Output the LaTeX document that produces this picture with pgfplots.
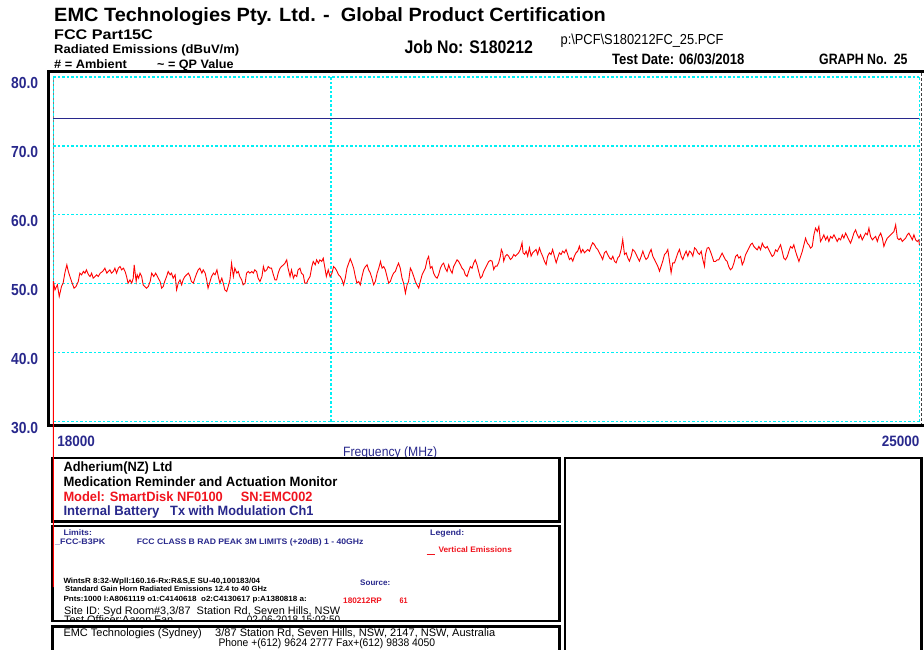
\documentclass[border=0pt]{standalone}
\usepackage{fontspec}
\setmainfont{Liberation Sans}
\usepackage{pgfplots}
\pgfplotsset{compat=1.18}
\usepackage{graphicx}
\definecolor{navy}{RGB}{40,40,140}
\definecolor{gridc}{RGB}{0,240,245}
\definecolor{tr}{RGB}{255,0,0}
\definecolor{rtx}{RGB}{240,20,30}
% x, baseline y (pixels from top), width, font size, colour, text
\newcommand{\TX}[6]{\node[anchor=base west,inner sep=0pt,text=#5] at (#1,#2) {\resizebox{#3pt}{\height}{\fontsize{#4}{#4}\selectfont #6}};}
\newcommand{\yl}[1]{\resizebox{27pt}{\height}{\fontsize{16}{16}\selectfont\bfseries #1}}
\newcommand{\xl}[1]{\resizebox{37.5pt}{\height}{\fontsize{15}{15}\selectfont\bfseries #1}}
% frequency in GHz (axis labelled in MHz), level in dBuV/m
\pgfplotstableread{
f v
18.000 6
18.000 50.4
18.012 49.13
18.027 49.85
18.041 48.16
18.057 49.61
18.068 50.10
18.080 51.55
18.092 52.76
18.103 51.79
18.114 51.06
18.126 50.34
18.142 49.37
18.156 49.61
18.172 50.34
18.183 51.55
18.195 51.31
18.206 51.79
18.218 51.55
18.229 52.03
18.241 51.31
18.252 51.06
18.264 51.55
18.275 50.82
18.287 51.06
18.299 51.31
18.310 51.06
18.322 51.55
18.341 51.79
18.357 52.27
18.368 51.55
18.379 51.79
18.391 52.03
18.403 51.55
18.415 51.79
18.426 52.27
18.438 51.55
18.450 52.27
18.461 52.51
18.473 52.03
18.485 52.27
18.497 51.79
18.508 51.06
18.520 50.10
18.532 50.58
18.544 50.10
18.555 50.82
18.562 52.76
18.574 50.34
18.583 51.31
18.593 50.82
18.602 51.55
18.614 51.06
18.625 49.85
18.637 49.61
18.649 49.37
18.661 49.61
18.673 50.34
18.685 51.55
18.701 51.06
18.715 51.55
18.732 50.82
18.744 50.34
18.756 49.37
18.767 49.61
18.779 50.34
18.791 51.06
18.803 51.79
18.815 51.31
18.827 51.55
18.839 50.82
18.851 51.31
18.863 49.13
18.875 50.10
18.887 50.58
18.899 49.85
18.910 50.58
18.922 51.06
18.935 51.31
18.946 51.55
18.958 51.06
18.970 50.34
18.982 50.10
18.995 50.82
19.007 51.55
19.018 52.03
19.031 52.27
19.043 51.55
19.054 52.03
19.067 51.55
19.079 50.58
19.091 49.37
19.103 50.34
19.115 51.06
19.127 51.55
19.139 51.31
19.152 52.03
19.163 51.06
19.176 50.10
19.188 50.82
19.200 50.10
19.212 49.13
19.225 48.89
19.236 49.61
19.249 50.58
19.261 53.00
19.273 51.06
19.285 52.27
19.298 51.55
19.310 51.79
19.322 51.06
19.335 50.58
19.346 49.85
19.358 50.10
19.371 51.55
19.383 51.79
19.395 51.55
19.408 51.79
19.420 51.55
19.432 52.03
19.445 51.79
19.457 50.82
19.469 50.34
19.482 51.06
19.493 52.51
19.506 51.79
19.518 52.03
19.530 52.51
19.543 52.27
19.556 52.27
19.568 51.31
19.580 50.58
19.593 50.58
19.605 51.55
19.617 52.27
19.630 52.51
19.642 52.76
19.655 53.00
19.667 53.48
19.679 52.27
19.692 51.06
19.705 52.03
19.717 50.82
19.729 51.31
19.742 51.06
19.754 52.03
19.767 52.27
19.780 51.55
19.792 51.31
19.804 50.10
19.817 50.10
19.829 50.58
19.842 51.06
19.855 52.51
19.867 53.24
19.880 52.76
19.893 53.48
19.905 53.00
19.917 53.48
19.930 53.24
19.942 53.72
19.955 52.27
19.968 51.06
19.980 52.03
19.993 51.06
20.006 51.55
20.018 52.51
20.031 52.27
20.044 51.79
20.056 51.31
20.069 51.06
20.082 50.58
20.094 49.85
20.107 50.82
20.120 52.27
20.133 53.00
20.145 53.63
20.158 53.00
20.171 52.27
20.184 51.06
20.196 50.10
20.209 50.34
20.222 49.85
20.235 51.06
20.248 52.03
20.261 52.51
20.274 52.76
20.286 52.03
20.299 51.55
20.312 50.82
20.325 49.85
20.338 50.34
20.351 51.55
20.364 52.27
20.377 53.24
20.390 52.27
20.402 52.51
20.415 52.03
20.428 51.06
20.441 50.10
20.454 50.34
20.467 51.06
20.479 51.55
20.493 51.79
20.506 52.51
20.518 53.00
20.531 52.27
20.545 50.82
20.557 50.10
20.571 48.65
20.584 49.85
20.596 50.34
20.610 52.27
20.623 51.79
20.636 51.06
20.649 50.34
20.662 49.85
20.675 49.37
20.688 50.34
20.702 51.31
20.714 51.79
20.727 52.27
20.741 53.48
20.753 53.97
20.767 52.27
20.780 52.51
20.793 51.55
20.806 51.06
20.820 50.82
20.832 51.31
20.846 52.27
20.859 52.76
20.872 53.00
20.885 52.27
20.899 51.79
20.912 52.76
20.925 52.03
20.939 51.55
20.951 52.51
20.965 53.00
20.978 53.48
20.991 53.24
21.005 52.76
21.018 52.27
21.031 52.03
21.044 51.31
21.058 51.06
21.071 51.79
21.084 52.51
21.098 52.27
21.111 53.00
21.124 53.48
21.138 52.76
21.151 51.79
21.165 50.82
21.178 51.06
21.191 51.79
21.205 52.27
21.218 52.76
21.232 53.24
21.245 53.40
21.259 53.29
21.272 52.08
21.285 52.56
21.299 52.56
21.312 53.05
21.326 54.01
21.334 54.98
21.345 54.50
21.353 53.29
21.366 54.01
21.380 54.26
21.393 54.01
21.407 53.53
21.421 53.77
21.434 54.26
21.448 54.01
21.461 54.26
21.474 54.50
21.488 54.98
21.502 55.95
21.510 54.50
21.523 54.26
21.535 54.74
21.548 54.01
21.562 55.22
21.576 54.01
21.589 54.50
21.603 54.74
21.617 54.98
21.630 54.26
21.644 55.22
21.658 54.50
21.671 54.01
21.685 53.29
21.699 52.80
21.712 54.01
21.726 54.50
21.740 54.26
21.753 54.98
21.767 54.01
21.782 53.05
21.795 53.77
21.809 54.50
21.823 54.26
21.836 54.74
21.850 54.50
21.864 54.98
21.878 54.26
21.892 53.53
21.906 53.77
21.919 53.29
21.933 54.01
21.947 54.50
21.961 54.74
21.975 55.46
21.989 54.50
22.003 54.98
22.017 54.50
22.031 54.74
22.044 54.98
22.059 54.74
22.073 55.46
22.086 55.95
22.100 55.71
22.115 55.22
22.128 54.98
22.142 54.50
22.157 54.01
22.170 53.53
22.185 54.50
22.199 54.74
22.212 54.26
22.227 53.77
22.241 53.53
22.255 54.01
22.269 53.29
22.283 53.05
22.297 53.77
22.311 54.01
22.326 54.98
22.339 56.43
22.354 54.26
22.368 54.50
22.382 53.77
22.396 53.29
22.411 54.01
22.424 54.98
22.439 54.74
22.453 54.26
22.467 53.77
22.481 53.29
22.496 54.01
22.510 54.74
22.524 54.01
22.538 53.53
22.552 53.77
22.567 54.50
22.581 54.98
22.595 54.01
22.610 53.53
22.624 53.05
22.638 52.56
22.653 51.84
22.667 52.56
22.681 53.29
22.696 54.26
22.710 54.50
22.724 54.98
22.739 53.29
22.753 51.60
22.767 53.05
22.782 53.05
22.797 53.77
22.811 54.50
22.825 54.98
22.840 54.01
22.854 53.53
22.869 54.26
22.883 54.74
22.897 54.01
22.912 54.74
22.927 54.50
22.941 54.01
22.956 55.22
22.970 54.98
22.985 54.50
22.999 54.26
23.014 54.74
23.028 53.53
23.043 52.56
23.051 54.21
23.066 55.17
23.080 55.27
23.095 54.69
23.110 53.97
23.124 53.24
23.139 53.24
23.154 53.48
23.168 53.48
23.183 53.97
23.198 54.45
23.212 53.97
23.227 53.48
23.242 53.24
23.256 52.51
23.271 52.03
23.286 52.27
23.301 53.00
23.316 53.97
23.331 54.21
23.345 53.72
23.360 53.97
23.375 52.76
23.389 53.24
23.404 54.21
23.420 54.69
23.434 55.17
23.449 55.66
23.464 55.90
23.478 55.42
23.493 55.17
23.508 54.93
23.523 55.42
23.538 54.93
23.553 55.90
23.567 55.42
23.583 55.17
23.598 55.42
23.612 54.93
23.627 54.45
23.643 53.97
23.657 54.21
23.672 54.93
23.688 54.69
23.702 55.17
23.717 55.66
23.733 54.69
23.747 53.72
23.762 53.48
23.778 53.97
23.792 54.69
23.807 55.42
23.823 55.17
23.837 55.66
23.853 54.69
23.868 53.97
23.883 53.24
23.898 53.97
23.913 54.69
23.928 55.66
23.943 56.62
23.959 55.90
23.973 55.66
23.989 55.17
24.004 55.42
24.019 57.11
24.034 58.08
24.050 57.59
24.065 58.32
24.080 56.14
24.096 56.62
24.110 57.11
24.126 56.38
24.142 56.87
24.156 56.14
24.172 56.87
24.187 56.62
24.202 57.11
24.218 56.62
24.233 56.14
24.248 56.62
24.264 56.38
24.279 57.11
24.294 56.62
24.310 57.35
24.325 56.87
24.340 56.38
24.356 55.90
24.372 56.62
24.386 57.35
24.402 57.83
24.418 57.11
24.433 56.62
24.448 57.11
24.464 56.38
24.479 56.87
24.495 57.35
24.511 57.11
24.526 58.08
24.541 56.87
24.557 56.38
24.572 56.62
24.588 56.87
24.604 56.14
24.619 56.87
24.635 57.35
24.651 56.62
24.666 55.42
24.682 56.14
24.698 56.62
24.713 56.87
24.729 57.11
24.744 57.35
24.760 57.59
24.776 58.56
24.792 56.62
24.807 56.38
24.823 56.62
24.838 56.14
24.854 56.38
24.870 56.62
24.886 57.11
24.901 57.35
24.917 56.87
24.933 56.38
24.948 57.11
24.964 56.38
24.980 56.14
24.995 56.38
25.000 55.66
}\trace
\begin{document}
\begin{tikzpicture}
\begin{scope}[x=1pt,y=-1pt]
\path[use as bounding box] (0,0) rectangle (924,649);
% header
\TX{54}{21.7}{551.6}{19.2}{black}{\bfseries EMC Technologies Pty. Ltd. -\ \ Global Product Certification}
\TX{54}{39.3}{98.7}{14}{black}{\bfseries FCC Part15C}
\TX{54}{53.3}{185}{12.2}{black}{\bfseries Radiated Emissions (dBuV/m)}
\TX{54}{68.3}{72.7}{12.2}{black}{\bfseries \# = Ambient}
\TX{157}{68.3}{76.3}{12.2}{black}{\bfseries \textasciitilde\ = QP Value}
\TX{404.3}{53}{128.4}{18.2}{black}{\bfseries Job No: S180212}
\TX{560.4}{44.3}{163}{14.5}{black}{p:\textbackslash PCF\textbackslash S180212FC\_25.PCF}
\TX{611.8}{64}{132.5}{15}{black}{\bfseries Test Date: 06/03/2018}
\TX{819}{64}{88.4}{15}{black}{\bfseries GRAPH No.\ \ 25}
% frame
\draw[line width=2.8pt] (48.3,71.3) rectangle (927,425.5);
\draw[gray, line width=0.8pt] (53.3,77) -- (53.3,421.7);
\draw[black!75, line width=1pt, dash pattern=on 3pt off 2pt] (921.8,73) -- (921.8,424);
% x label (partly hidden by box)
\TX{343}{456.7}{94}{13.5}{navy}{Frequency (MHz)}
% box 1
\draw[line width=2.2pt,fill=white] (52.5,458) rectangle (559.5,521.5);
\TX{63.3}{471}{109}{13.5}{black}{\bfseries Adherium(NZ) Ltd}
\TX{63.3}{486}{274}{13.5}{black}{\bfseries Medication Reminder and Actuation Monitor}
\TX{63.3}{501}{159.4}{13.5}{rtx}{\bfseries Model: SmartDisk NF0100}
\TX{240.7}{501}{71.6}{13.5}{rtx}{\bfseries SN:EMC002}
\TX{63.3}{515}{96}{13.5}{navy}{\bfseries Internal Battery}
\TX{170}{515}{143.3}{13.5}{navy}{\bfseries Tx with Modulation Ch1}
% box 2
\draw[line width=2.2pt,fill=white] (565,458) rectangle (921.5,660);
% box 3
\draw[line width=2.2pt,fill=white] (52.5,526) rectangle (559.5,621);
\TX{63.3}{535}{28.4}{8}{navy}{\bfseries Limits:}
\TX{55}{544}{50}{8}{navy}{\bfseries \_FCC-B3PK}
\TX{136.7}{544}{226.6}{8}{navy}{\bfseries FCC CLASS B RAD PEAK 3M LIMITS (+20dB) 1 - 40GHz}
\TX{430}{535}{34}{8}{navy}{\bfseries Legend:}
\draw[rtx, line width=1pt] (426.7,554.5) -- (435,554.5);
\TX{438.3}{552.7}{73.4}{8}{rtx}{\bfseries Vertical Emissions}
\TX{63.3}{583.3}{196.7}{7.5}{black}{\bfseries WintsR 8:32-Wpll:160.16-Rx:R\&S,E SU-40,100183/04}
\TX{65}{591.7}{201.7}{7.5}{black}{\bfseries Standard Gain Horn Radiated Emissions 12.4 to 40 GHz}
\TX{63.3}{601.7}{243.4}{7.5}{black}{\bfseries Pnts:1000 l:A8061119 o1:C4140618\ \ o2:C4130617 p:A1380818 a:}
\TX{360}{585}{30}{8}{navy}{\bfseries Source:}
\TX{343}{603.3}{38.7}{8}{rtx}{\bfseries 180212RP}
\TX{399.3}{603.3}{8}{8}{rtx}{\bfseries 61}
\TX{64}{614.3}{276}{10.8}{black}{Site ID: Syd Room\#3,3/87\ \ Station Rd, Seven Hills, NSW}
\begin{scope}
\clip (54,527) rectangle (558,619.8);
\TX{64}{623.5}{109}{10.8}{black}{Test Officer:Aaron Fan}
\TX{246.7}{623.5}{93.3}{10.8}{black}{02-06-2018 15:03:50}
\end{scope}
\draw[line width=2.2pt] (52.5,526) rectangle (559.5,621);
% box 4
\draw[line width=2.2pt,fill=white] (52.5,626.5) rectangle (559.5,660);
\TX{63.3}{636}{138.4}{11}{black}{EMC Technologies (Sydney)}
\TX{215}{636}{280}{11}{black}{3/87 Station Rd, Seven Hills, NSW, 2147, NSW, Australia}
\TX{218.3}{646}{216.7}{11}{black}{Phone +(612) 9624 2777 Fax+(612) 9838 4050}
\end{scope}
\begin{axis}[
  at={(53.3pt,-421.7pt)}, anchor=south west,
  scale only axis, width=866pt, height=344.7pt,
  xmode=log, xmin=18, xmax=25, ymin=30, ymax=80,
  xtick={18,20,25},
  xticklabels={\makebox[0pt][l]{\hspace{4pt}\xl{18000}},,\makebox[0pt][r]{\xl{25000}}},
  ytick={30,40,50,60,70,80},
  yticklabels={\yl{30.0},\yl{40.0},\yl{50.0},\yl{60.0},\yl{70.0},\yl{80.0}},
  minor xtick={}, minor ytick={},
  tick style={draw=none},
  axis line style={draw=none},
  grid=major,
  major grid style={color=gridc, line width=1.2pt, dash pattern=on 2.5pt off 2pt},
  xticklabel style={anchor=north, inner sep=0pt, yshift=-14pt, text=navy},
  yticklabel style={anchor=north east, inner sep=0pt, xshift=-15pt, yshift=0pt, text=navy},
  clip=false,
]
\addplot[navy, line width=1.2pt] coordinates {(18,74) (25,74)};
\addplot[tr, line width=0.9pt] table[x=f, y=v] {\trace};
\end{axis}
\end{tikzpicture}
\end{document}
